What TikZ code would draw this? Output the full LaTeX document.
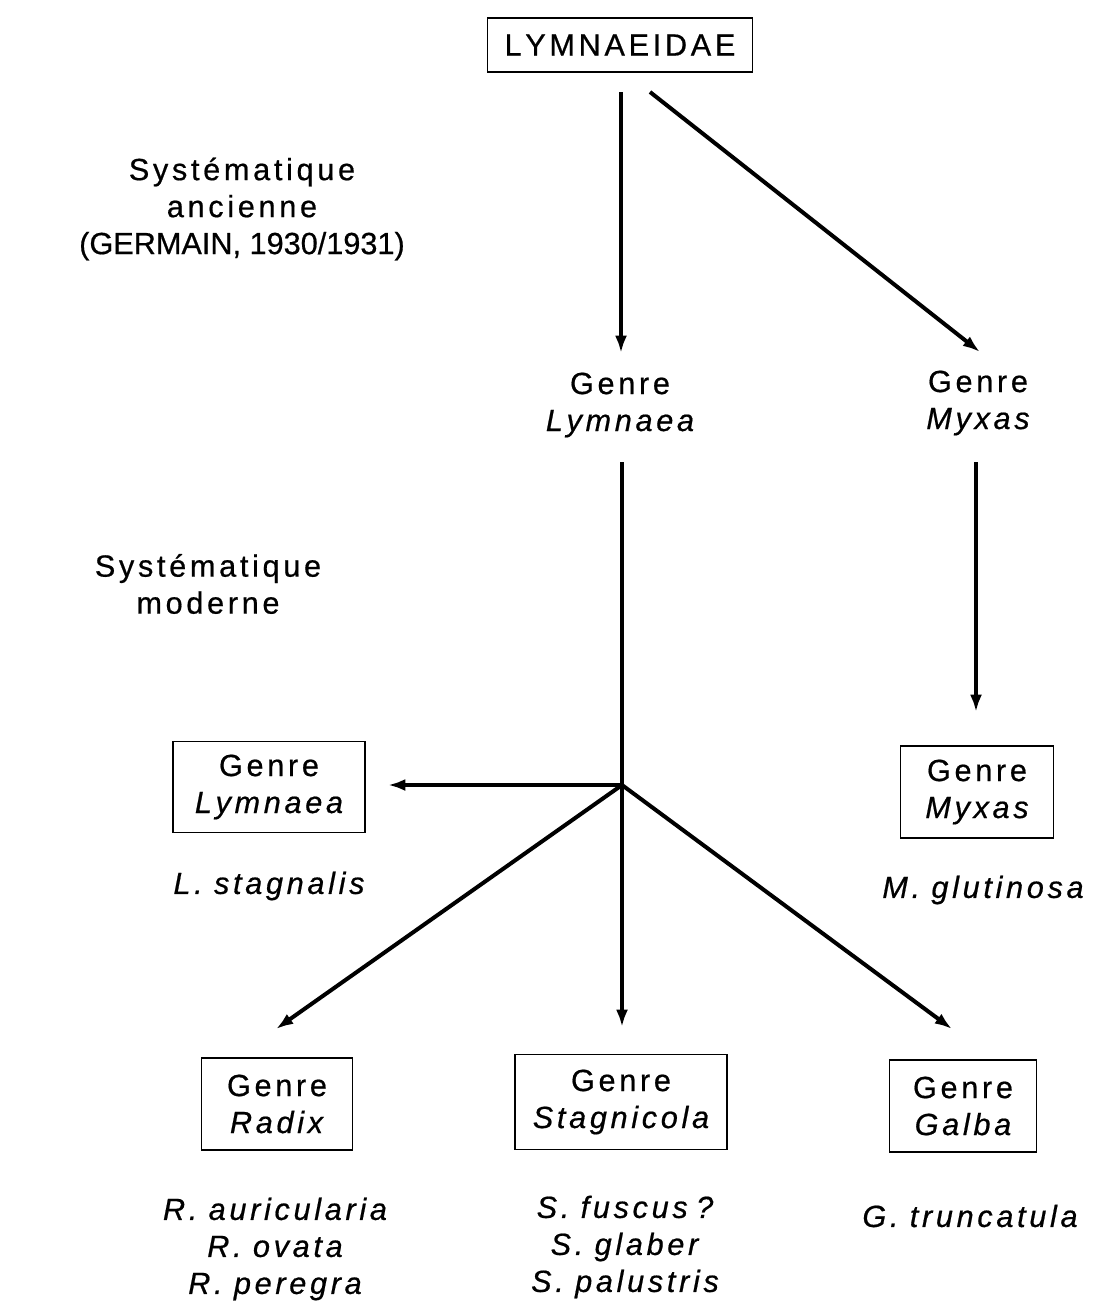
\documentclass[tikz,border=0pt]{standalone}
\usepackage{fontspec}
\setmainfont{Liberation Sans}[FakeBold=0.6,ItalicFeatures={FakeBold=0.6}]
\XeTeXinterchartokenstate=1
\XeTeXinterchartoks 0 0 = {\kern0.12em}
\newcommand{\tightline}[1]{{\XeTeXinterchartokenstate=0 #1}}
\usetikzlibrary{arrows.meta}
\begin{document}
\begin{tikzpicture}[x=0.75pt,y=-0.75pt,
  every node/.style={font=\fontsize{23}{27.75}\selectfont, align=center, inner sep=0pt},
  box/.style={draw, line width=1.1pt},
  arr/.style={line width=3pt, -{Latex[length=13pt,width=9pt]}},
  plain/.style={line width=3pt},
]
\useasboundingbox (0,0) rectangle (1097,1304);

% boxes and labels
\node[box, minimum width=198.75pt, minimum height=40.5pt] (top) at (620,45) {LYMNAEIDAE};
\node (anc) at (242,209) {Systématique\\ancienne\\\tightline{(GERMAIN, 1930/1931)}};
\node (mod) at (208,584) {Systématique\\moderne};
\node (glym) at (620,405) {Genre\\\textit{Lymnaea}};
\node (gmyx) at (978,403) {Genre\\\textit{Myxas}};

\node[box, minimum width=144pt, minimum height=68.25pt] (blym) at (269,787) {Genre\\\textit{Lymnaea}};
\node[box, minimum width=114.75pt, minimum height=69pt] (bmyx) at (977,792) {Genre\\\textit{Myxas}};
\node (lsta) at (269,886) {\textit{L. stagnalis}};
\node (mglu) at (983,890) {\textit{M. glutinosa}};

\node[box, minimum width=113.25pt, minimum height=69pt] (brad) at (277,1104) {Genre\\\textit{Radix}};
\node[box, minimum width=159pt, minimum height=71.25pt] (bsta) at (621,1102) {Genre\\\textit{Stagnicola}};
\node[box, minimum width=110.25pt, minimum height=69pt] (bgal) at (963,1106) {Genre\\\textit{Galba}};

\node (rlist) at (275,1249) {\textit{R. auricularia}\\\textit{R. ovata}\\\textit{R. peregra}};
\node (slist) at (625,1247) {\textit{S. fuscus ?}\\\textit{S. glaber}\\\textit{S. palustris}};
\node (glist) at (970,1216) {\textit{G. truncatula}};

% connector coordinates
\coordinate (t1) at (621,92);
\coordinate (t1e) at (621,353);
\coordinate (t2) at (650,92);
\coordinate (t2e) at (980,352);
\coordinate (l1) at (622,462);
\coordinate (br) at (622,785);
\coordinate (m1) at (976,462);
\coordinate (m1e) at (976,712);
\coordinate (ble) at (388,785);
\coordinate (bre) at (276,1029);
\coordinate (bse) at (622,1027);
\coordinate (bge) at (952,1029);

\draw[arr] (t1) -- (t1e);
\draw[arr] (t2) -- (t2e);
\draw[plain] (l1) -- (br);
\draw[arr] (m1) -- (m1e);
\draw[arr] (br) -- (ble);
\draw[arr] (br) -- (bre);
\draw[arr] (br) -- (bse);
\draw[arr] (br) -- (bge);
\end{tikzpicture}
\end{document}
